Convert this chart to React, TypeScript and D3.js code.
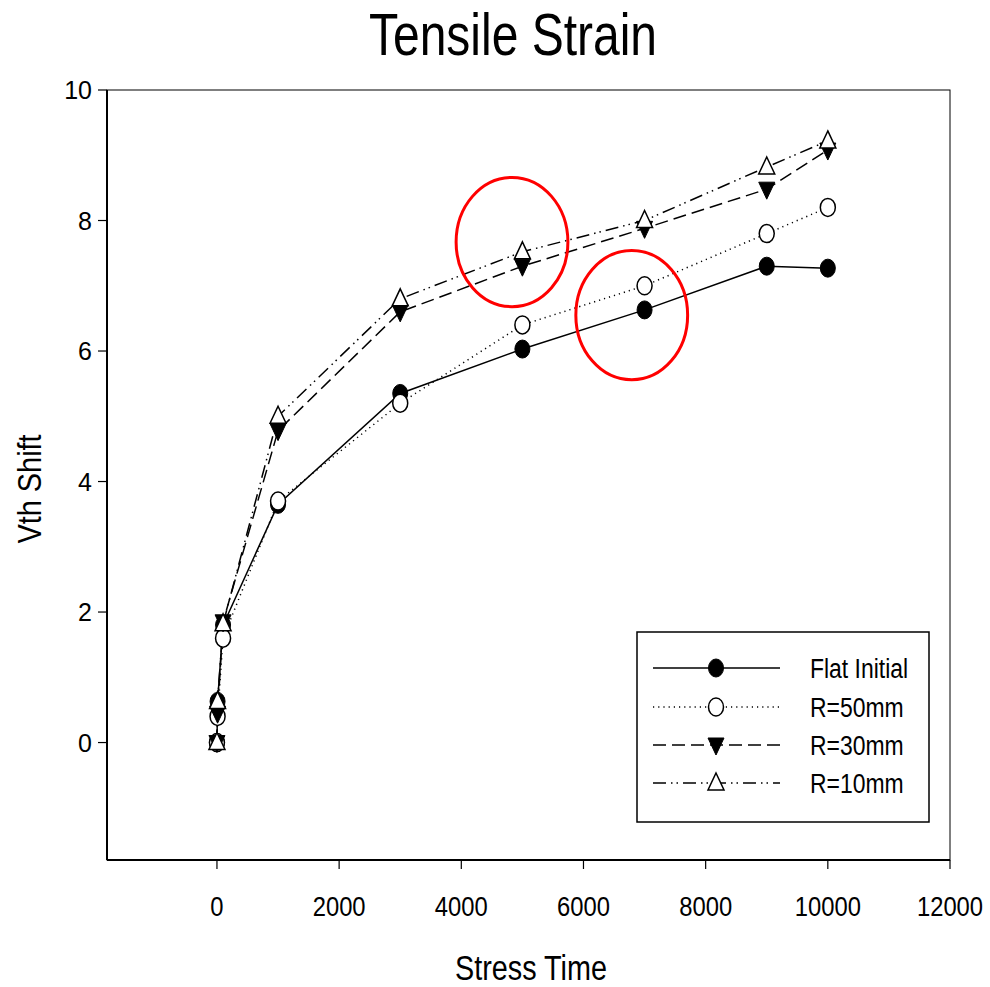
import React from "react";
import * as d3 from "d3";

const stressTime = [0, 10, 100, 1000, 3000, 5000, 7000, 9000, 10000];
const flatInitial = [0, 0.63, 1.8, 3.65, 5.35, 6.03, 6.63, 7.3, 7.27];
const r50 = [0, 0.4, 1.6, 3.7, 5.2, 6.4, 7.0, 7.8, 8.2];
const r30 = [0, 0.45, 1.85, 4.78, 6.6, 7.3, 7.88, 8.48, 9.08];
const r10 = [0, 0.63, 1.82, 5.0, 6.8, 7.52, 8.0, 8.82, 9.22];
const seriesNames = ["Flat Initial", "R=50mm", "R=30mm", "R=10mm"];
const xTicks = [0, 2000, 4000, 6000, 8000, 10000, 12000];
const yTicks = [0, 2, 4, 6, 8, 10];
// annotation ellipses: centre x, centre y, radius x (time units), radius y (Vth units)
const annoX = [4830, 6790];
const annoY = [7.67, 6.55];
const annoRx = [915, 915];
const annoRy = [0.99, 0.99];

const W = 990;
const H = 987;
const L = 107, R = 950, T = 90, B = 860;
const FONT = "'Liberation Sans', Arial, sans-serif";

type Style = { dash: string; marker: string };
const styles: Style[] = [
  { dash: "", marker: "filledCircle" },
  { dash: "1.2,4", marker: "openCircle" },
  { dash: "13,6", marker: "downTri" },
  { dash: "13,5,1.5,4,1.5,5", marker: "upTri" },
];

function Marker({ kind, cx, cy }: { kind: string; cx: number; cy: number }) {
  if (kind === "filledCircle")
    return <ellipse cx={cx} cy={cy} rx={7.5} ry={9} fill="#000" stroke="#000" strokeWidth={1} />;
  if (kind === "openCircle")
    return <ellipse cx={cx} cy={cy} rx={7.5} ry={9} fill="#fff" stroke="#000" strokeWidth={1.5} />;
  if (kind === "downTri")
    return (
      <path d={`M${cx - 8},${cy - 7} L${cx + 8},${cy - 7} L${cx},${cy + 10} Z`} fill="#000" stroke="#000" strokeWidth={1} />
    );
  return (
    <path d={`M${cx},${cy - 10} L${cx + 8},${cy + 7} L${cx - 8},${cy + 7} Z`} fill="#fff" stroke="#000" strokeWidth={1.5} />
  );
}

export default function App() {
  const x = d3.scaleLinear().domain([-1800, 12000]).range([L, R]);
  const y = d3.scaleLinear().domain([-1.8, 10]).range([B, T]);
  const allSeries = [flatInitial, r50, r30, r10];
  const line = d3
    .line<[number, number]>()
    .x((d) => x(d[0]))
    .y((d) => y(d[1]));

  const legendRows = [668, 707, 745, 783];

  return (
    <div style={{ position: "absolute", left: 0, top: 0 }}>
      <svg width={W} height={H} style={{ display: "block", background: "#fff" }} fontFamily={FONT}>
        <rect x={0} y={0} width={W} height={H} fill="#fff" />
        {/* Title */}
        <g transform="translate(513,55) scale(0.8,1)">
          <text x={0} y={0} fontSize={60} textAnchor="middle">
            Tensile Strain
          </text>
        </g>

        {/* frame */}
        <rect x={L} y={T} width={R - L} height={B - T} fill="none" stroke="#000" strokeWidth={1} />
        <line x1={L} y1={T} x2={L} y2={B} stroke="#000" strokeWidth={2} />
        <line x1={L} y1={B} x2={R} y2={B} stroke="#000" strokeWidth={2} />

        {/* x ticks */}
        {xTicks.map((t) => (
          <g key={"xt" + t}>
            <line x1={x(t)} x2={x(t)} y1={B} y2={B + 9} stroke="#000" strokeWidth={1.2} />
            <g transform={`translate(${x(t)},916) scale(0.85,1)`}>
              <text x={0} y={0} fontSize={28} textAnchor="middle">
                {t}
              </text>
            </g>
          </g>
        ))}
        {/* y ticks */}
        {yTicks.map((t) => (
          <g key={"yt" + t}>
            <line x1={L - 9} x2={L} y1={y(t)} y2={y(t)} stroke="#000" strokeWidth={1.2} />
            <text x={92} y={y(t) + 9} fontSize={25} textAnchor="end">
              {t}
            </text>
          </g>
        ))}

        {/* axis titles */}
        <g transform="translate(531,980) scale(0.8,1)">
          <text x={0} y={0} fontSize={36} textAnchor="middle">
            Stress Time
          </text>
        </g>
        <g transform="translate(41,489) rotate(-90) scale(0.85,1)">
          <text x={0} y={0} fontSize={34} textAnchor="middle">
            Vth Shift
          </text>
        </g>

        {/* lines */}
        {allSeries.map((s, i) => (
          <path
            key={"l" + i}
            d={line(stressTime.map((t, j) => [t, s[j]] as [number, number])) || ""}
            fill="none"
            stroke="#000"
            strokeWidth={1.5}
            strokeDasharray={styles[i].dash || undefined}
          />
        ))}
        {/* markers */}
        {allSeries.map((s, i) => (
          <g key={"m" + i}>
            {stressTime.map((t, j) => (
              <Marker key={j} kind={styles[i].marker} cx={x(t)} cy={y(s[j])} />
            ))}
          </g>
        ))}

        {/* annotations */}
        {annoX.map((ax, i) => (
          <ellipse
            key={"a" + i}
            cx={x(ax)}
            cy={y(annoY[i])}
            rx={x(ax + annoRx[i]) - x(ax)}
            ry={y(annoY[i] - annoRy[i]) - y(annoY[i])}
            fill="none"
            stroke="#ff0000"
            strokeWidth={3}
          />
        ))}

        {/* legend */}
        <rect x={637} y={632} width={292} height={190} fill="#fff" stroke="#000" strokeWidth={1.5} />
        {seriesNames.map((name, i) => (
          <g key={"lg" + i}>
            <line
              x1={653}
              x2={780}
              y1={legendRows[i]}
              y2={legendRows[i]}
              stroke="#000"
              strokeWidth={1.5}
              strokeDasharray={styles[i].dash || undefined}
            />
            <Marker kind={styles[i].marker} cx={716} cy={legendRows[i]} />
            <g transform={`translate(810,${legendRows[i] + 10}) scale(0.85,1)`}>
              <text x={0} y={0} fontSize={27}>
                {name}
              </text>
            </g>
          </g>
        ))}
      </svg>
    </div>
  );
}
